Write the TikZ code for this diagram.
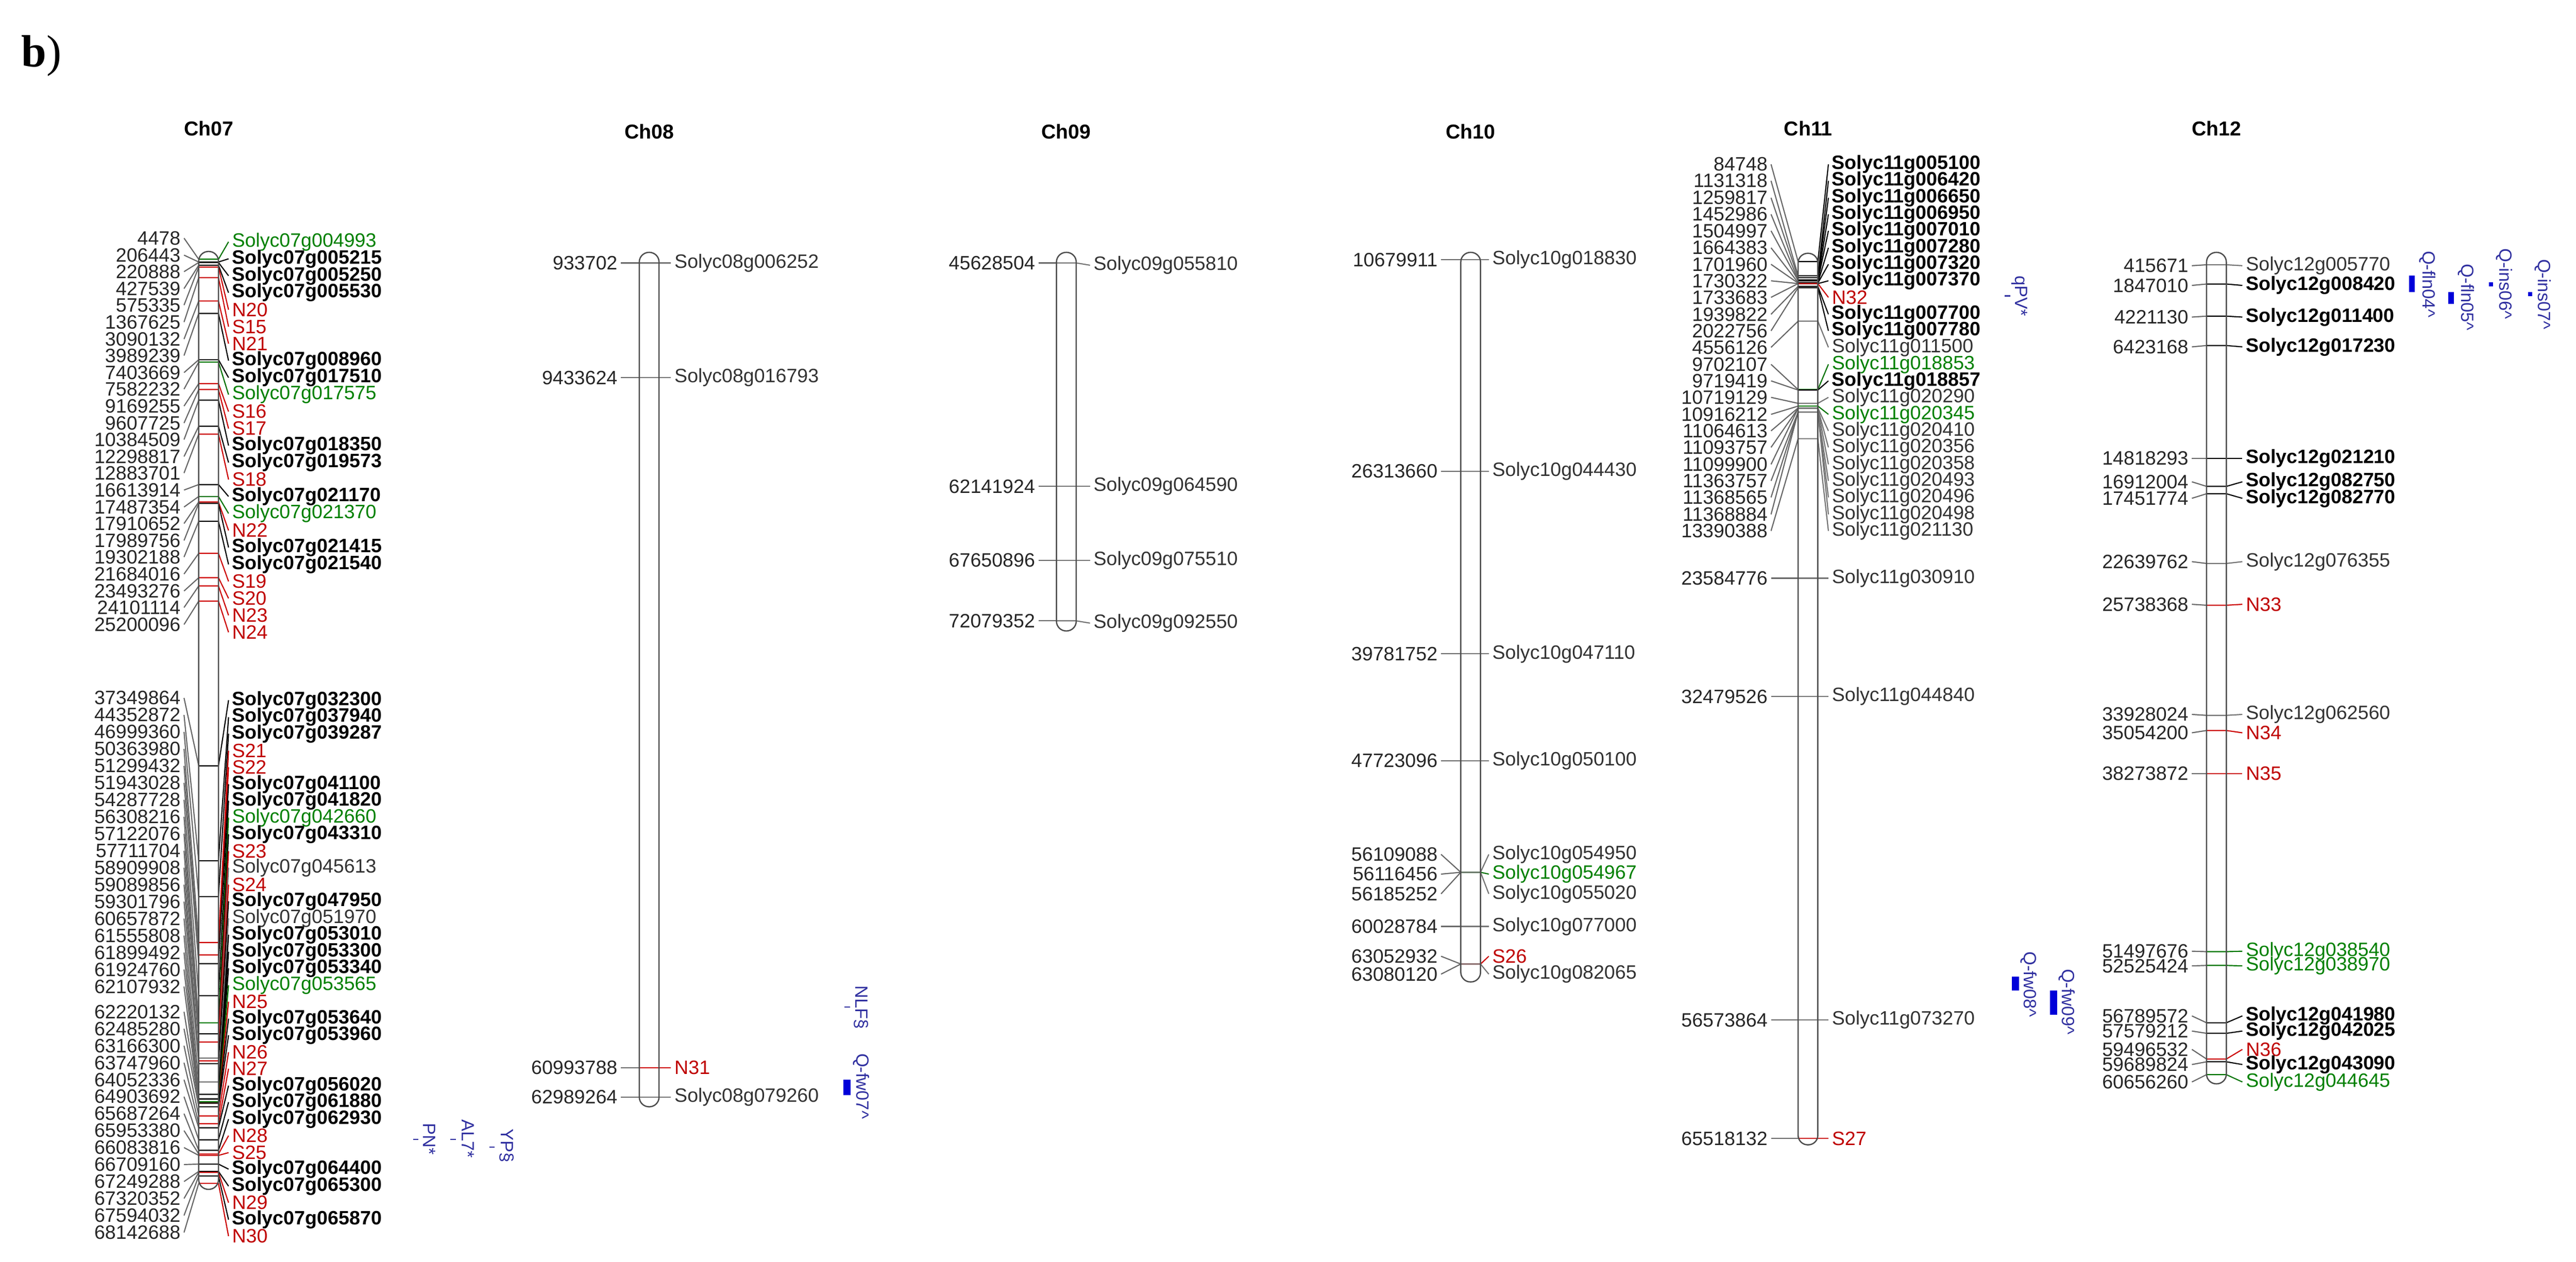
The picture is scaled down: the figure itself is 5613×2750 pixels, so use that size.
\documentclass[tikz,border=0pt]{standalone}
\usepackage{fontspec}
\setmainfont{Liberation Sans}
\newfontfamily\serifb{Liberation Serif}
\colorlet{lbk}{black}
\colorlet{lgy}{black!55}
\colorlet{lgr}{green!45!black}
\colorlet{lrd}{red!80!black}
\definecolor{qblue}{HTML}{3030A0}
\tikzset{
  gbk/.style={font=\fontsize{12}{12}\selectfont\bfseries, text=black},
  ggy/.style={font=\fontsize{12}{12}\selectfont, text=black!80},
  ggr/.style={font=\fontsize{12}{12}\selectfont, text=green!50!black},
  grd/.style={font=\fontsize{12}{12}\selectfont, text=red!75!black},
  gstyle/.style={g#1}, lstyle/.style={draw=l#1},
  numlab/.style={font=\fontsize{12}{12}\selectfont, text=black!85, inner sep=2pt},
  conn/.style={line width=0.7pt},
  chrbar/.style={draw=black!70, line width=0.8pt, rounded corners=0.21cm},
  title/.style={font=\fontsize{12.5}{12}\selectfont\bfseries},
  qlab/.style={font=\fontsize{11}{11}\selectfont, text=qblue, rotate=-90, anchor=west, inner sep=0pt},
  qbar/.style={fill=blue!85!black, draw=none}
}
\newcommand\chrLeft[4]{%
  \foreach \yl/\ym/\t [count=\i] in {#4} {
    \node[numlab, anchor=east] (#1L\i) at (#2,\yl) {\t};
    \draw[conn, draw=black!60] (#1L\i.east) -- (#3,\ym);
  }}
\newcommand\chrRight[5]{%
  \foreach \yr/\ym/\t/\s [count=\i] in {#5} {
    \node[gstyle/.expand once=\s, anchor=west, inner sep=2pt] (#1R\i) at (#2,\yr) {\t};
    \draw[conn, lstyle/.expand once=\s] (#3,\ym) -- (#4,\ym) -- (#1R\i.west);
  }}
\begin{document}
\begin{tikzpicture}[x=0.01cm, y=-0.01cm]
\useasboundingbox (0,0) rectangle (5613,2750);
\node[font=\fontsize{28}{28}\selectfont\serifb, anchor=west, inner sep=0pt] (lab) at (46,122) {\textbf{b})};
% titles
\node[title] (t7) at (455,280) {Ch07};
\node[title] (t8) at (1415,287) {Ch08};
\node[title] (t9) at (2323,287) {Ch09};
\node[title] (t10) at (3204,287) {Ch10};
\node[title] (t11) at (3940,280) {Ch11};
\node[title] (t12) at (4830,280) {Ch12};
% ---------------- Ch07
\chrLeft{7a}{401}{433}{519/565/4478,556/571/206443,592/572/220888,629/578/427539,665/582/575335,702/605/1367625,739/656/3090132,775/683/3989239,812/784/7403669,848/789/7582232,885/836/9169255,922/849/9607725,958/872/10384509,995/929/12298817,1031/946/12883701,1068/1056/16613914,1105/1082/17487354,1141/1094/17910652,1178/1097/17989756,1214/1136/19302188,1251/1206/21684016,1288/1259/23493276,1324/1277/24101114,1361/1310/25200096}
\chrRight{7a}{498}{433}{476}{527/565/Solyc07g004993/gr,564/571/Solyc07g005215/bk,601/572/Solyc07g005250/bk,638/578/Solyc07g005530/bk,675/582/N20/rd,712/605/S15/rd,749/656/N21/rd,786/683/Solyc07g008960/bk,823/784/Solyc07g017510/bk,860/789/Solyc07g017575/gr,897/836/S16/rd,934/849/S17/rd,971/872/Solyc07g018350/bk,1008/929/Solyc07g019573/bk,1045/946/S18/rd,1082/1056/Solyc07g021170/bk,1119/1082/Solyc07g021370/gr,1156/1094/N22/rd,1193/1097/Solyc07g021415/bk,1230/1136/Solyc07g021540/bk,1267/1206/S19/rd,1304/1259/S20/rd,1341/1277/N23/rd,1378/1310/N24/rd}
\chrLeft{7b}{401}{433}{1521/1669/37349864,1558/1876/44352872,1595/1954/46999360,1632/2054/50363980,1669/2081/51299432,1706/2100/51943028,1743/2170/54287728,1780/2229/56308216,1817/2253/57122076,1854/2271/57711704,1891/2306/58909908,1928/2312/59089856,1965/2318/59301796,2002/2358/60657872,2039/2385/61555808,2076/2395/61899492,2113/2395/61924760,2150/2401/62107932,2205/2404/62220132,2242/2412/62485280,2279/2432/63166300,2316/2449/63747960,2353/2458/64052336,2390/2484/64903692,2427/2507/65687264,2464/2515/65953380,2501/2518/66083816,2538/2537/66709160,2575/2553/67249288,2612/2555/67320352,2649/2563/67594032,2686/2579/68142688}
\chrRight{7b}{498}{433}{476}{1526/1669/Solyc07g032300/bk,1563/1876/Solyc07g037940/bk,1599/1954/Solyc07g039287/bk,1636/2054/S21/rd,1672/2081/S22/rd,1709/2100/Solyc07g041100/bk,1745/2170/Solyc07g041820/bk,1782/2229/Solyc07g042660/gr,1818/2253/Solyc07g043310/bk,1855/2271/S23/rd,1891/2306/Solyc07g045613/gy,1928/2312/S24/rd,1964/2318/Solyc07g047950/bk,2001/2358/Solyc07g051970/gy,2037/2385/Solyc07g053010/bk,2074/2395/Solyc07g053300/bk,2110/2395/Solyc07g053340/bk,2147/2401/Solyc07g053565/gr,2183/2404/N25/rd,2220/2404/Solyc07g053640/bk,2256/2412/Solyc07g053960/bk,2293/2432/N26/rd,2329/2449/N27/rd,2366/2458/Solyc07g056020/bk,2402/2484/Solyc07g061880/bk,2439/2507/Solyc07g062930/bk,2475/2515/N28/rd,2512/2518/S25/rd,2548/2537/Solyc07g064400/bk,2585/2553/Solyc07g065300/bk,2621/2555/N29/rd,2658/2563/Solyc07g065870/bk,2694/2579/N30/rd}
\draw[chrbar] (433,548) rectangle (476,2592);
% QTL Ch07
\node[qlab] (pn) at (936,2447) {PN*};
\node[qlab] (al7) at (1020,2439) {AL7*};
\node[qlab] (yp) at (1104,2459) {YP§};
\draw[qblue, line width=0.7pt] (900,2483) -- (912,2483) (981,2483) -- (993,2483) (1066,2500) -- (1078,2500);
% ---------------- Ch08
\chrLeft{8}{1353}{1393}{573/573/933702,823/823/9433624,2327/2327/60993788,2391/2391/62989264}
\chrRight{8}{1462}{1393}{1436}{573/573/Solyc08g006252/gy,823/823/Solyc08g016793/gy,2327/2327/N31/rd,2391/2391/Solyc08g079260/gy}
\draw[chrbar] (1393,550) rectangle (1436,2412);
\node[qlab] (nlf) at (1877,2147) {NLF§};
\draw[qblue, line width=0.7pt] (1840,2195) -- (1852,2195);
\node[qlab] (qfw7) at (1877,2295) {Q-fw07\^{}};
\fill[qbar] (1838,2353) rectangle (1853,2387);
% ---------------- Ch09
\chrLeft{9}{2263}{2302}{573/573/45628504,1060/1060/62141924,1221/1221/67650896,1353/1353/72079352}
\chrRight{9}{2375}{2302}{2345}{578/573/Solyc09g055810/gy,1060/1060/Solyc09g064590/gy,1221/1221/Solyc09g075510/gy,1358/1353/Solyc09g092550/gy}
\draw[chrbar] (2302,550) rectangle (2345,1375);
% ---------------- Ch10
\chrLeft{10}{3140}{3183}{566/566/10679911,1027/1027/26313660,1425/1425/39781752,1658/1658/47723096,1862/1901/56109088,1905/1901/56116456,1948/1901/56185252,2019/2019/60028784,2084/2101/63052932,2123/2101/63080120}
\chrRight{10}{3244}{3183}{3226}{566/566/Solyc10g018830/gy,1027/1027/Solyc10g044430/gy,1425/1425/Solyc10g047110/gy,1658/1658/Solyc10g050100/gy,1862/1901/Solyc10g054950/gy,1905/1901/Solyc10g054967/gr,1948/1901/Solyc10g055020/gy,2019/2019/Solyc10g077000/gy,2084/2101/S26/rd,2123/2101/Solyc10g082065/gy}
\draw[chrbar] (3183,550) rectangle (3226,2140);
% ---------------- Ch11
\chrLeft{11}{3859}{3918}{358/570/84748,394/601/1131318,431/605/1259817,467/610/1452986,503/612/1504997,540/616/1664383,576/617/1701960,612/618/1730322,648/618/1733683,685/624/1939822,721/627/2022756,757/700/4556126,794/849/9702107,830/850/9719419,866/879/10719129,903/885/10916212,939/889/11064613,975/890/11093757,1012/890/11099900,1048/898/11363757,1084/898/11368565,1121/898/11368884,1157/956/13390388,1260/1260/23584776,1518/1518/32479526,2223/2223/56573864,2481/2481/65518132}
\chrRight{11}{3984}{3918}{3961}{358/570/Solyc11g005100/bk,394/601/Solyc11g006420/bk,431/605/Solyc11g006650/bk,467/610/Solyc11g006950/bk,503/612/Solyc11g007010/bk,540/616/Solyc11g007280/bk,576/617/Solyc11g007320/bk,612/618/Solyc11g007370/bk,648/618/N32/rd,685/624/Solyc11g007700/bk,721/627/Solyc11g007780/bk,757/700/Solyc11g011500/gy,794/849/Solyc11g018853/gr,830/850/Solyc11g018857/bk,866/879/Solyc11g020290/gy,903/885/Solyc11g020345/gr,939/889/Solyc11g020410/gy,975/890/Solyc11g020356/gy,1012/890/Solyc11g020358/gy,1048/898/Solyc11g020493/gy,1084/898/Solyc11g020496/gy,1121/898/Solyc11g020498/gy,1157/956/Solyc11g021130/gy,1260/1260/Solyc11g030910/gy,1518/1518/Solyc11g044840/gy,2223/2223/Solyc11g073270/gy,2481/2481/S27/rd}
\draw[chrbar] (3918,552) rectangle (3961,2495);
\node[qlab] (qpv) at (4400,600) {qPV*};
\draw[qblue, line width=0.7pt] (4368,645) -- (4380,645);
\node[qlab] (qfw8) at (4420,2073) {Q-fw08\^{}};
\fill[qbar] (4384,2128) rectangle (4399,2159);
\node[qlab] (qfw9) at (4503,2111) {Q-fw09\^{}};
\fill[qbar] (4467,2159) rectangle (4482,2212);
% ---------------- Ch12
\chrLeft{12}{4776}{4808}{579/577/415671,622/619/1847010,691/689/4221130,756/753/6423168,999/999/14818293,1050/1060/16912004,1086/1076/17451774,1224/1228/22639762,1317/1319/25738368,1557/1559/33928024,1597/1592/35054200,1686/1686/38273872,2073/2074/51497676,2105/2104/52525424,2214/2229/56789572,2247/2252/57579212,2287/2308/59496532,2320/2314/59689824,2358/2342/60656260}
\chrRight{12}{4886}{4808}{4851}{579/577/Solyc12g005770/gy,622/619/Solyc12g008420/bk,691/689/Solyc12g011400/bk,756/753/Solyc12g017230/bk,999/999/Solyc12g021210/bk,1050/1060/Solyc12g082750/bk,1086/1076/Solyc12g082770/bk,1224/1228/Solyc12g076355/gy,1317/1319/N33/rd,1557/1559/Solyc12g062560/gy,1597/1592/N34/rd,1686/1686/N35/rd,2073/2074/Solyc12g038540/gr,2105/2104/Solyc12g038970/gr,2214/2229/Solyc12g041980/bk,2247/2252/Solyc12g042025/bk,2287/2308/N36/rd,2320/2314/Solyc12g043090/bk,2358/2342/Solyc12g044645/gr}
\draw[chrbar] (4808,550) rectangle (4851,2362);
\node[qlab] (fln4) at (5289,546) {Q-fln04\^{}};
\fill[qbar] (5249,601) rectangle (5262,637);
\node[qlab] (fln5) at (5373,575) {Q-fln05\^{}};
\fill[qbar] (5334,637) rectangle (5347,662);
\node[qlab] (ins6) at (5457,541) {Q-ins06\^{}};
\fill[qbar] (5423,615) rectangle (5432,624);
\node[qlab] (ins7) at (5541,564) {Q-ins07\^{}};
\fill[qbar] (5508,637) rectangle (5517,646);
\end{tikzpicture}
\end{document}
